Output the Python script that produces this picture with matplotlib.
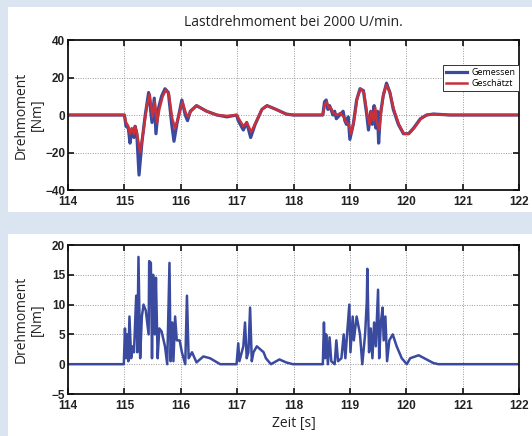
import matplotlib
matplotlib.use("Agg")
import matplotlib.pyplot as plt
from matplotlib.patches import Rectangle

# ---------------- data ----------------
title_text = "Lastdrehmoment bei 2000 U/min."
ylabel_text = "Drehmoment\n[Nm]"
xlabel_text = "Zeit [s]"
legend_labels = ["Gemessen", "Geschätzt"]

x_ticks = [114, 115, 116, 117, 118, 119, 120, 121, 122]
top_yticks = [-40, -20, 0, 20, 40]
bot_yticks = [-5, 0, 5, 10, 15, 20]

t_meas = [114, 115.0, 115.03, 115.07, 115.10, 115.13, 115.17, 115.19, 115.22, 115.26,
          115.31, 115.37, 115.43, 115.49, 115.53, 115.56, 115.60, 115.66, 115.72, 115.78,
          115.84, 115.88, 115.93, 116.02, 116.08, 116.12, 116.17, 116.28, 116.46, 116.64,
          116.82, 116.99, 117.02, 117.11, 117.17, 117.24, 117.32, 117.44, 117.53, 117.69,
          117.87, 117.99, 118.52, 118.55, 118.58, 118.61, 118.64, 118.70, 118.73, 118.76,
          118.82, 118.88, 118.91, 118.94, 118.97, 119.00, 119.06, 119.12, 119.18, 119.24,
          119.30, 119.33, 119.37, 119.40, 119.43, 119.46, 119.49, 119.51, 119.54, 119.59,
          119.65, 119.71, 119.77, 119.86, 119.95, 120.04, 120.13, 120.25, 120.36, 120.48,
          120.60, 120.77, 122]
v_meas = [0, 0, -6, -7, -15, -8, -12, -6, -10, -32,
          -15, 0, 12, -4, 9, -10, 3, 10, 14, 12,
          -5, -14, -5, 8, 0, -3, 2, 5, 2, 0,
          -1, 0, -3, -8, -4, -12, -5, 3, 5, 3,
          0.5, 0, 0, 7, 8, 3, 5, 0, 2, -2,
          0, 2, -3, -5, -1, -13, -5, 8, 14, 13,
          0, -8, 2, -5, 5, -7, 2, -15, 0, 10,
          17, 12, 3, -5, -10, -10, -7, -2, 0, 0.5,
          0.3, 0, 0]

t_est = [114, 115.0, 115.03, 115.07, 115.10, 115.13, 115.17, 115.19, 115.22, 115.28,
         115.34, 115.40, 115.45, 115.50, 115.54, 115.58, 115.62, 115.68, 115.74, 115.79,
         115.85, 115.90, 115.95, 116.03, 116.09, 116.13, 116.18, 116.28, 116.46, 116.64,
         116.82, 117.0, 117.03, 117.11, 117.17, 117.25, 117.33, 117.44, 117.53, 117.69,
         117.87, 118.0, 118.52, 118.56, 118.59, 118.62, 118.66, 118.71, 118.77, 118.83,
         118.89, 118.94, 118.98, 119.02, 119.08, 119.13, 119.19, 119.25, 119.31, 119.35,
         119.38, 119.42, 119.45, 119.48, 119.52, 119.56, 119.60, 119.65, 119.71, 119.78,
         119.87, 119.96, 120.05, 120.14, 120.26, 120.37, 120.48, 120.60, 120.77, 122]
v_est = [0, 0, -4, -6, -10, -7, -10, -6, -9, -20,
         -8, 5, 11, -1, 7, -4, 3, 10, 13.5, 11,
         -2, -7, -2, 7, 1, -1, 2, 5, 2, 0,
         -0.5, 0, -2, -6, -4, -9, -4, 3, 5, 3,
         0.5, 0, 0, 6, 7, 4, 4, 1, 0, 1,
         -1, -4, -5, -10, -2, 9, 14, 12, 0, -5,
         2, -3, 4, -4, -8, 3, 12, 16, 12, 3,
         -5, -10, -10, -7, -2, 0, 0.5, 0.3, 0, 0]

t_err = [114, 114.99, 115.01, 115.03, 115.05, 115.07, 115.09, 115.12, 115.15, 115.17,
         115.21, 115.23, 115.25, 115.28, 115.31, 115.34, 115.38, 115.43, 115.44, 115.47,
         115.49, 115.51, 115.54, 115.56, 115.59, 115.62, 115.66, 115.72, 115.76, 115.80,
         115.82, 115.85, 115.87, 115.90, 115.93, 115.98, 116.02, 116.08, 116.11, 116.14,
         116.20, 116.28, 116.40, 116.52, 116.70, 116.99, 117.02, 117.04, 117.11, 117.14,
         117.17, 117.20, 117.23, 117.26, 117.29, 117.35, 117.47,
         117.51, 117.60, 117.75, 117.87, 117.99, 118.52, 118.54, 118.56, 118.58, 118.61,
         118.64, 118.67, 118.73, 118.76, 118.79, 118.85, 118.89, 118.92, 118.95, 118.99,
         119.01, 119.05, 119.07, 119.12, 119.18, 119.22, 119.27, 119.30, 119.31, 119.34,
         119.37, 119.40, 119.43, 119.46, 119.50, 119.52, 119.55, 119.58, 119.60, 119.63,
         119.66, 119.70, 119.76, 119.83, 119.92, 120.01, 120.07, 120.22, 120.36, 120.48,
         120.57, 122]
v_err = [0, 0, 6, 1, 5, 0.5, 8, 1, 3, 2,
         11.5, 2, 18, 1, 8, 10, 9, 5, 17.3, 17,
         1, 15, 5, 14.5, 1, 6, 5.5, 3, 0, 17,
         0.5, 7, 0.5, 8, 4, 4, 2, 0, 11.5, 1,
         2, 0.3, 1.3, 1, 0, 0, 3.5, 0.5, 3, 7,
         1, 2, 9.5, 0.5, 2, 3, 2,
         1, 0, 0.8, 0.3, 0, 0, 7, 1, 5, 0,
         4.5, 0.5, 0, 4, 0.5, 1, 5, 1, 5, 10,
         2, 8, 4, 8, 5, 0, 5, 10.5, 16, 2,
         6, 1, 7, 3, 12.5, 1, 7, 9.5, 4, 8,
         0.5, 4, 5, 3, 1, 0, 1, 1.5, 0.8, 0.2,
         0, 0]

# ---------------- style ----------------
W, H = 532, 436
BG = "#dbe5f2"
BLUE = "#3a4a9e"
RED = "#c8303a"
LABEL_FONT = ["Open Sans", "DejaVu Sans"]
TICK_FONT = ["Liberation Sans", "DejaVu Sans"]

fig = plt.figure(figsize=(W / 100, H / 100), dpi=100, facecolor=BG)

# white panels
fig.add_artist(Rectangle((8 / W, (H - 212) / H), (W - 8) / W, 205 / H,
                         transform=fig.transFigure, facecolor="white",
                         edgecolor="none", zorder=0))
fig.add_artist(Rectangle((8 / W, 0), (W - 8) / W, (H - 234) / H,
                         transform=fig.transFigure, facecolor="white",
                         edgecolor="none", zorder=0))

ax_l, ax_r = 68, 519
ax1 = fig.add_axes([ax_l / W, (H - 190) / H, (ax_r - ax_l) / W, 150 / H])
ax2 = fig.add_axes([ax_l / W, (H - 394) / H, (ax_r - ax_l) / W, 149 / H])


def style_axes(ax, yticks):
    ax.set_xlim(114, 122)
    ax.set_ylim(yticks[0], yticks[-1])
    ax.set_xticks(x_ticks)
    ax.set_yticks(yticks)
    ax.tick_params(direction="in", top=True, right=True, length=4, width=1.2,
                   labelsize=8.5, colors="#111111")
    ax.tick_params(axis="x", pad=4)
    ax.tick_params(axis="y", pad=2)
    for lab in ax.get_xticklabels() + ax.get_yticklabels():
        lab.set_family(TICK_FONT)
        lab.set_fontweight("bold")
        lab.set_color("#222222")
    ax.grid(True, linestyle=(0, (1, 1.5)), color="#9a9a9a", linewidth=0.7)
    for s in ax.spines.values():
        s.set_linewidth(1.3)
        s.set_color("#111111")
    ax.set_facecolor("white")
    ax.set_ylabel(ylabel_text, family=LABEL_FONT, fontsize=10,
                  linespacing=1.1, color="#222222")
    ax.yaxis.set_label_coords(-0.052, 0.5)


ax1.plot(t_meas, v_meas, color=BLUE, linewidth=2.3, label=legend_labels[0],
         solid_joinstyle="round")
ax1.plot(t_est, v_est, color=RED, linewidth=1.8, label=legend_labels[1],
         solid_joinstyle="round")
style_axes(ax1, top_yticks)
leg = ax1.legend(loc="upper right", bbox_to_anchor=(1.0, 0.835), borderaxespad=0,
                 fancybox=False, framealpha=1, edgecolor="#333333",
                 prop={"family": LABEL_FONT, "size": 6.5}, handlelength=2.4,
                 borderpad=0.35, labelspacing=0.2, handletextpad=0.5)
leg.get_frame().set_linewidth(0.7)

ax2.plot(t_err, v_err, color=BLUE, linewidth=1.8, solid_joinstyle="round")
style_axes(ax2, bot_yticks)

fig.text((ax_l + ax_r) / 2 / W, 1 - 22 / H, title_text, ha="center", va="center",
         family=LABEL_FONT, fontsize=10, color="#222222")
fig.text((ax_l + ax_r) / 2 / W, 1 - 423 / H, xlabel_text, ha="center", va="center",
         family=LABEL_FONT, fontsize=10, color="#222222")

fig.savefig("out.png", dpi=100, facecolor=BG)
